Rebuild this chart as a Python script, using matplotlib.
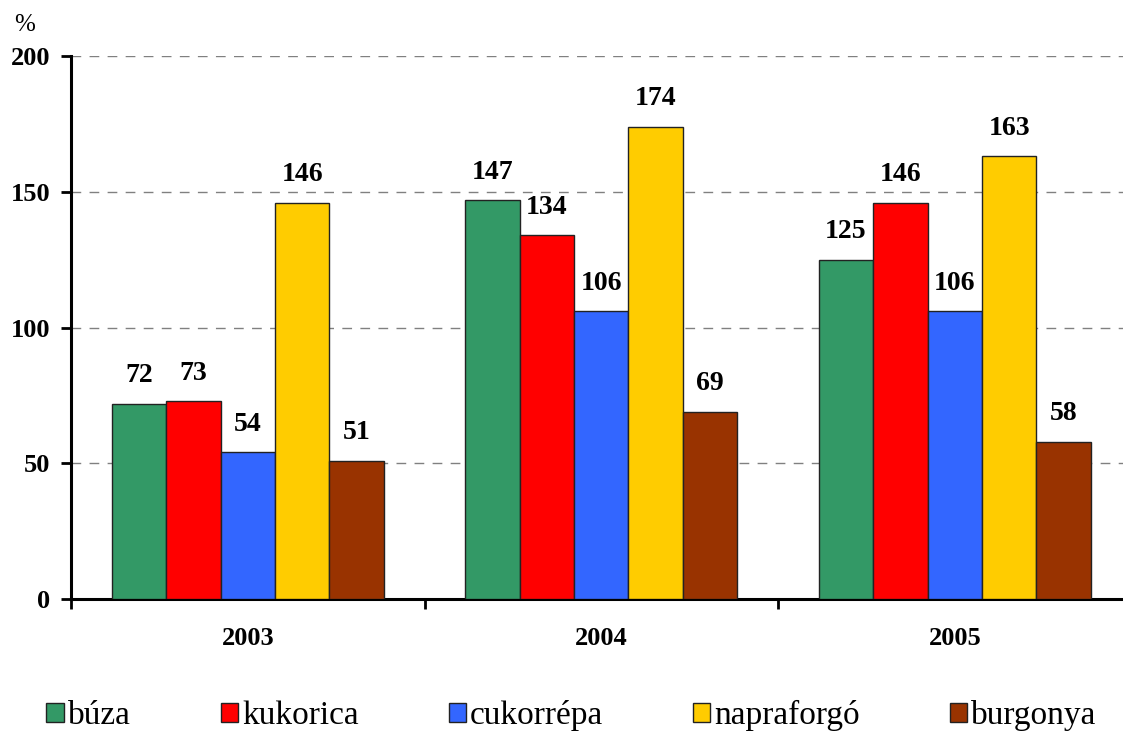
import numpy as np
import matplotlib
matplotlib.use("Agg")
import matplotlib.pyplot as plt

plt.rcParams['font.family'] = ['Liberation Serif', 'DejaVu Serif']

years = ['2003', '2004', '2005']
crops = ['búza', 'kukorica', 'cukorrépa', 'napraforgó', 'burgonya']
colors = ['#339966', '#FF0000', '#3366FF', '#FFCC00', '#993300']
buza = [72, 147, 125]
kukorica = [73, 134, 146]
cukorrepa = [54, 106, 106]
napraforgo = [146, 174, 163]
burgonya = [51, 69, 58]
series = [buza, kukorica, cukorrepa, napraforgo, burgonya]

fig = plt.figure(figsize=(11.23, 7.31), dpi=100)
ax = fig.add_axes([71/1123, 132/731, 3*353.5/1123, 543/731])

w = 0.154
x = np.arange(len(years))
for j, (vals, c, name) in enumerate(zip(series, colors, crops)):
    xs = x + (j - 2) * w
    ax.bar(xs, vals, w, color=c, edgecolor='#222222', linewidth=1.0, label=name, zorder=3)
    for xi, v in zip(xs, vals):
        ax.annotate(str(v), (xi, v), xytext=(0, 20), textcoords='offset points',
                    ha='center', va='center', fontsize=20, fontweight='bold')

ax.set_ylim(0, 200)
ax.set_xlim(-0.5, 2.5)
ax.set_yticks([0, 50, 100, 150, 200])
ax.set_yticklabels(['0', '50', '100', '150', '200'], fontsize=19, fontweight='bold')
ax.yaxis.grid(True, linestyle=(0, (7, 6)), color='#808080', linewidth=1.0, zorder=0)

ax.set_xticks([-0.5, 0.5, 1.5, 2.5])
ax.set_xticklabels([])
ax.set_xticks(x, minor=True)
ax.set_xticklabels(years, minor=True, fontsize=19, fontweight='bold')
ax.tick_params(axis='x', which='minor', length=0, pad=20)
ax.tick_params(axis='x', which='major', length=7, width=2, direction='out')
ax.tick_params(axis='y', length=7, width=2, pad=8, direction='out')

for s in ['top', 'right']:
    ax.spines[s].set_visible(False)
for s in ['left', 'bottom']:
    ax.spines[s].set_linewidth(2.2)

fig.text(25/1123, 1 - 25/731, '%', fontsize=18, ha='center', va='center')

fig.legend(loc='center', bbox_to_anchor=(0.509, 0.021), ncol=5, frameon=False,
           fontsize=24, handlelength=0.52, handleheight=0.52, handletextpad=0.12,
           columnspacing=2.7)

fig.savefig('out.png', dpi=100)
